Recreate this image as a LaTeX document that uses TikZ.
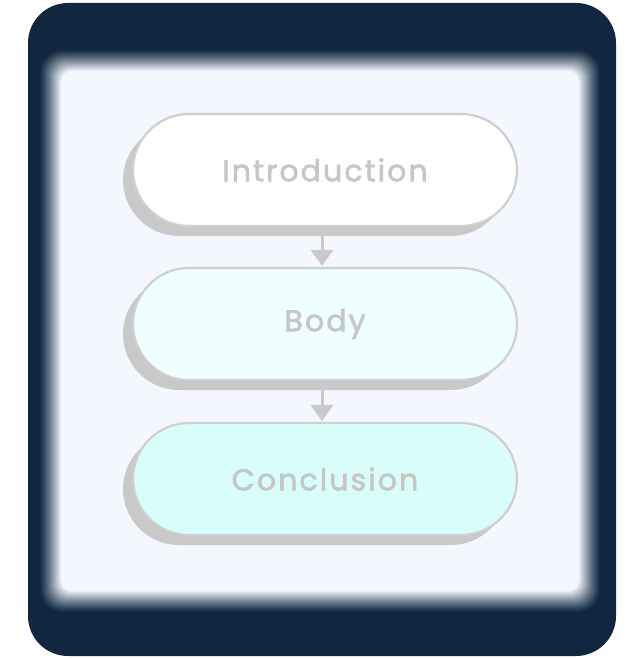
\documentclass[tikz,border=0pt]{standalone}
\usepackage{fontspec}
\setmainfont{Poppins}
\newfontfamily\stagefont[LetterSpace=7,FakeBold=2]{Poppins}
\usetikzlibrary{shadows,arrows.meta}
\definecolor{navy}{HTML}{10273F}
\definecolor{panel}{HTML}{F4F7FE}
\definecolor{edge}{HTML}{CFCFCF}
\definecolor{shade}{HTML}{C9C9C9}
\definecolor{txt}{HTML}{C6C6C6}
\definecolor{bodyfill}{HTML}{EEFFFF}
\definecolor{concfill}{HTML}{D8FDFA}
\tikzset{
  stage/.style={draw=edge, line width=2.2pt, rounded corners=56pt,
    minimum width=384pt, minimum height=112pt, inner sep=0pt,
    text=txt, font=\stagefont\fontsize{30}{36}\selectfont,
    drop shadow={shadow xshift=-10pt, shadow yshift=-10pt, fill=shade, opacity=1}},
  flow/.style={draw=shade, line width=3pt,
    -{Triangle[length=16pt,width=22pt]}, shorten >=1pt}
}
\begin{document}
\begin{tikzpicture}[x=1pt,y=-1pt]
\useasboundingbox (0,0) rectangle (626,658);
\fill[navy, rounded corners=40pt] (28,3) rectangle (616,656);
\foreach \i in {0,...,22}{
  \pgfmathsetmacro{\m}{(\i/22)^1.2*100}
  \fill[panel!\m!navy, rounded corners={22pt-0.5pt*\i}] (39+\i,49+\i) rectangle (601-\i,613-\i);
}
\node[stage, fill=white] (intro) at (325,170) {Introduction};
\node[stage, fill=bodyfill] (body) at (325,324) {Body};
\node[stage, fill=concfill] (conc) at (325,479) {Conclusion};
\draw[flow] (intro.south -| 322,0) -- (body.north -| 322,0);
\draw[flow] (body.south -| 322,0) -- (conc.north -| 322,0);
\end{tikzpicture}
\end{document}
